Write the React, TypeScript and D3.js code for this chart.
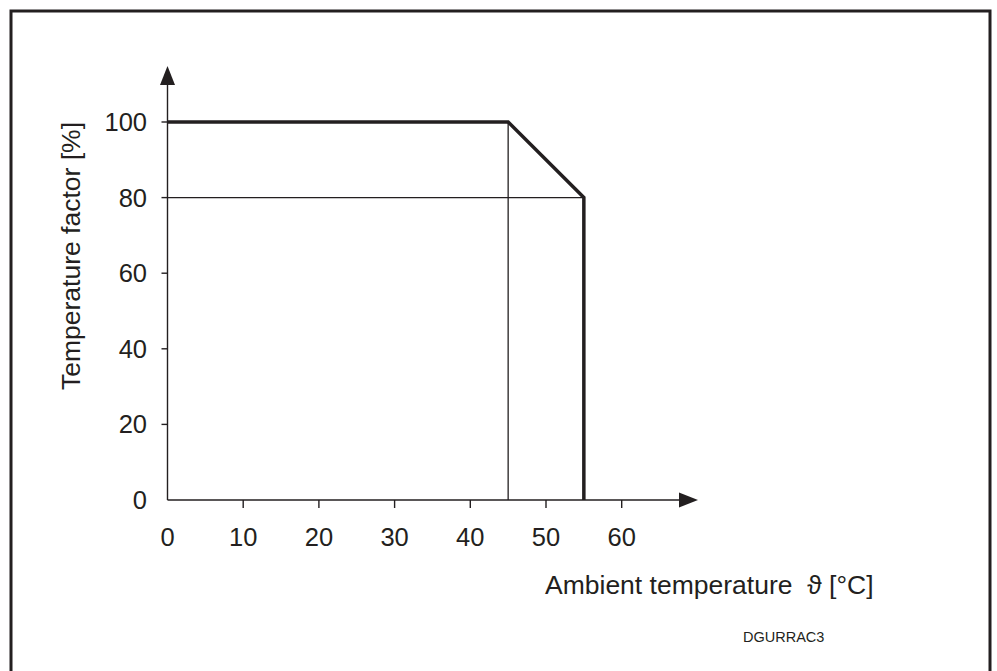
import React from "react";
import * as d3 from "d3";

const curveTemps = [0, 45, 55, 55];
const curveFactors = [100, 100, 80, 0];
const xTicks = [0, 10, 20, 30, 40, 50, 60];
const yTicks = [0, 20, 40, 60, 80, 100];
const guideTemp = 45;
const guideFactor = 80;
const xTitle = "Ambient temperature  \u03d1 [\u00b0C]";
const yTitle = "Temperature factor [%]";
const code = "DGURRAC3";

export default function App() {
  const W = 997, H = 671;
  const x = d3.scaleLinear().domain([0, 10]).range([167.5, 243.2]);
  const y = d3.scaleLinear().domain([0, 100]).range([500, 122]);
  const x0 = x(0), y0 = y(0);
  const line = d3.line<number>().x((_, i) => x(curveTemps[i])).y((_, i) => y(curveFactors[i]));
  const pts = curveTemps.map((_, i) => i);
  const font = "Liberation Sans, Arial, sans-serif";
  const ink = "#231f20";
  const xEnd = 698, yEnd = 66;
  return (
    <svg width={W} height={H} style={{ position: "absolute", left: 0, top: 0, background: "#fff" }}>
      <rect x={0} y={0} width={W} height={H} fill="#fff" />
      <rect x={11} y={11} width={979} height={700} fill="none" stroke={ink} strokeWidth={3} />
      {/* axes */}
      <line x1={x0} y1={y0} x2={xEnd - 18} y2={y0} stroke={ink} strokeWidth={1.4} />
      <polygon points={`${xEnd},${y0} ${xEnd - 19},${y0 - 7.5} ${xEnd - 19},${y0 + 7.5}`} fill={ink} />
      <line x1={x0} y1={y0} x2={x0} y2={yEnd + 18} stroke={ink} strokeWidth={1.4} />
      <polygon points={`${x0},${yEnd} ${x0 - 7.5},${yEnd + 19} ${x0 + 7.5},${yEnd + 19}`} fill={ink} />
      {xTicks.map((t) => (
        <g key={"x" + t}>
          {t !== 0 && <line x1={x(t)} y1={y0} x2={x(t)} y2={y0 + 8} stroke={ink} strokeWidth={1.4} />}
          <text x={x(t)} y={y0 + 46} textAnchor="middle" fontFamily={font} fontSize={25.5} fill={ink}>{t}</text>
        </g>
      ))}
      {yTicks.map((t) => (
        <g key={"y" + t}>
          {t !== 0 && <line x1={x0 - 6} y1={y(t)} x2={x0} y2={y(t)} stroke={ink} strokeWidth={1.4} />}
          <text x={147} y={y(t) + 9} textAnchor="end" fontFamily={font} fontSize={25.5} fill={ink}>{t}</text>
        </g>
      ))}
      {/* guides */}
      <line x1={x0} y1={y(guideFactor)} x2={x(55)} y2={y(guideFactor)} stroke={ink} strokeWidth={1.3} />
      <line x1={x(guideTemp)} y1={y(100)} x2={x(guideTemp)} y2={y0} stroke={ink} strokeWidth={1.3} />
      {/* curve */}
      <path d={line(pts) || ""} fill="none" stroke={ink} strokeWidth={3.5} strokeLinejoin="miter" />
      <text x={545} y={594} fontFamily={font} fontSize={26.5} fill={ink} style={{ whiteSpace: "pre" }}>{xTitle}</text>
      <text transform={`translate(80,256) rotate(-90)`} textAnchor="middle" fontFamily={font} fontSize={26.5} fill={ink}>{yTitle}</text>
      <text x={743} y={642} fontFamily={font} fontSize={14.5} fill={ink}>{code}</text>
    </svg>
  );
}
